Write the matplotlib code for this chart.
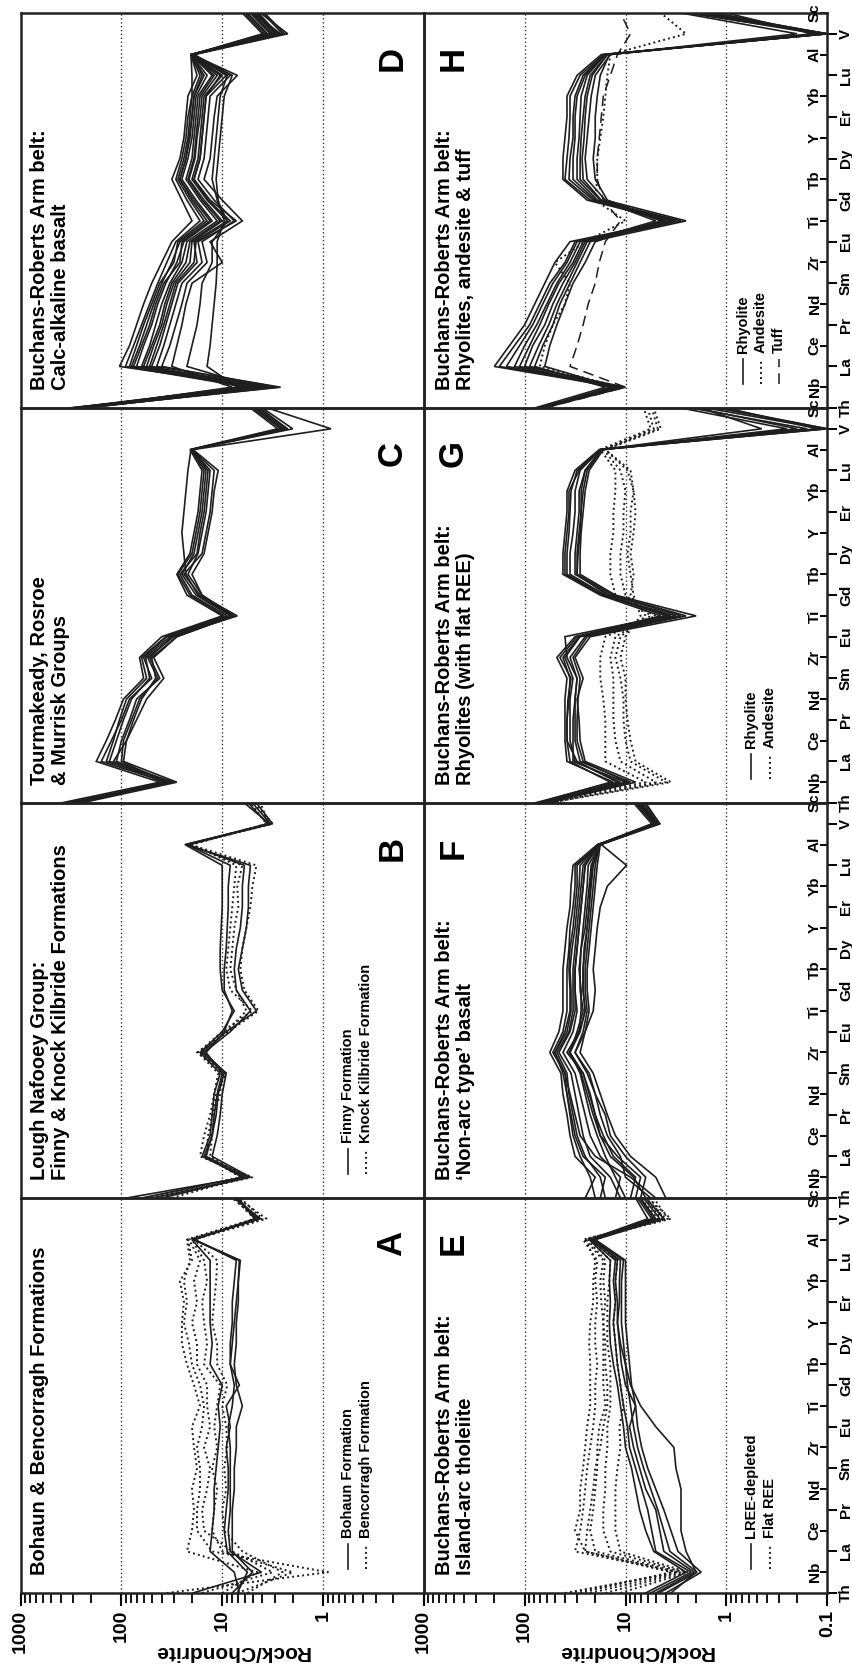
import matplotlib
matplotlib.use("Agg")
import matplotlib.pyplot as plt
import matplotlib.transforms as mtransforms
from matplotlib.ticker import LogLocator, NullFormatter, NullLocator
import numpy as np

plt.rcParams['font.family'] = ['Liberation Sans', 'DejaVu Sans']
plt.rcParams['font.weight'] = 'bold'

# Element order along each panel (Th at the panel bottom, Sc at the top)
elements = ["Th", "Nb", "La", "Ce", "Pr", "Nd", "Sm", "Zr", "Eu", "Ti",
            "Gd", "Tb", "Dy", "Y", "Er", "Yb", "Lu", "Al", "V", "Sc"]

# Profiles are given as log10(Rock/Chondrite), one list per sample
# --- A: Bohaun & Bencorragh Formations
bohaun_log = [
    [1.29, 0.61, 0.92, 0.94, 0.92, 0.92, 0.92, 0.92, 0.94, 0.90, 0.88, 0.92, 0.90, 0.88, 0.86, 0.84, 0.83, 1.29, 0.66, 0.86],
    [0.83, 0.88, 1.12, 1.10, 1.08, 1.08, 1.06, 1.04, 1.02, 1.04, 1.00, 1.12, 1.10, 1.12, 1.12, 1.12, 1.12, 1.30, 0.62, 0.88],
    [0.85, 0.75, 0.95, 0.98, 0.96, 0.94, 0.94, 0.96, 0.92, 0.96, 0.83, 0.92, 0.92, 0.90, 0.90, 0.88, 0.86, 1.27, 0.68, 0.84],
    [0.90, 0.70, 0.90, 0.90, 0.90, 0.88, 0.88, 0.86, 0.86, 0.80, 0.86, 0.88, 0.86, 0.86, 0.84, 0.84, 0.82, 1.28, 0.64, 0.86],
]
bencorragh_log = [
    [1.55, -0.05, 1.10, 1.25, 1.25, 1.22, 1.22, 1.25, 1.20, 1.18, 1.22, 1.30, 1.33, 1.38, 1.35, 1.38, 1.32, 1.35, 0.66, 0.90],
    [1.20, 0.50, 0.90, 1.18, 1.20, 1.15, 1.12, 1.18, 1.12, 1.15, 1.15, 1.25, 1.25, 1.30, 1.25, 1.28, 1.22, 1.33, 0.62, 0.88],
    [0.85, 0.30, 1.00, 1.10, 1.08, 1.05, 1.10, 1.05, 1.08, 1.05, 1.02, 1.18, 1.15, 1.18, 1.20, 1.15, 1.18, 1.30, 0.60, 0.82],
    [1.00, 0.65, 1.35, 1.30, 1.28, 1.30, 1.25, 1.28, 1.30, 1.22, 1.28, 1.35, 1.40, 1.40, 1.38, 1.42, 1.30, 1.34, 0.68, 0.88],
    [0.75, 0.40, 0.80, 0.98, 1.00, 0.96, 0.98, 0.95, 0.96, 1.00, 0.95, 1.05, 1.05, 1.10, 1.08, 1.06, 1.05, 1.28, 0.56, 0.85],
]

# --- B: Lough Nafooey Group
finny_log = [
    [1.95, 0.77, 1.20, 1.12, 1.10, 1.08, 1.02, 1.22, 1.00, 0.88, 1.00, 1.02, 1.02, 1.01, 1.00, 1.00, 1.00, 1.37, 0.53, 0.78],
    [1.80, 0.80, 1.18, 1.10, 1.06, 1.04, 0.98, 1.20, 0.96, 0.66, 0.80, 0.84, 0.80, 0.76, 0.74, 0.74, 0.72, 1.36, 0.52, 0.70],
    [1.70, 0.72, 1.10, 1.05, 1.02, 1.00, 0.96, 1.18, 0.92, 0.72, 0.86, 0.88, 0.86, 0.82, 0.80, 0.80, 0.78, 1.34, 0.55, 0.74],
    [1.60, 0.74, 1.16, 1.10, 1.08, 1.05, 1.00, 1.16, 0.98, 0.90, 0.98, 0.98, 0.96, 0.95, 0.94, 0.94, 0.92, 1.35, 0.50, 0.66],
]
knock_kilbride_log = [
    [1.75, 0.82, 1.16, 1.14, 1.10, 1.06, 0.96, 1.25, 0.94, 0.64, 0.78, 0.82, 0.80, 0.76, 0.72, 0.70, 0.66, 1.32, 0.54, 0.62],
    [1.50, 0.78, 1.12, 1.10, 1.08, 1.02, 1.00, 1.22, 0.96, 0.76, 0.86, 0.92, 0.90, 0.88, 0.84, 0.85, 0.80, 1.33, 0.50, 0.68],
    [1.65, 0.70, 1.22, 1.18, 1.12, 1.08, 1.04, 1.24, 1.00, 0.70, 0.92, 0.96, 0.94, 0.92, 0.90, 0.88, 0.86, 1.30, 0.56, 0.72],
]

# --- C: Tourmakeady, Rosroe & Murrisk Groups
tourmakeady_log = [
    [2.55, 1.55, 2.20, 2.10, 2.00, 1.92, 1.70, 1.78, 1.55, 0.95, 1.30, 1.42, 1.25, 1.22, 1.18, 1.16, 1.14, 1.31, 0.40, 0.68],
    [2.45, 1.50, 2.05, 2.00, 1.92, 1.85, 1.62, 1.72, 1.50, 0.85, 1.22, 1.38, 1.20, 1.16, 1.12, 1.10, 1.08, 1.30, 0.30, 0.60],
    [2.60, 1.62, 2.25, 2.15, 2.06, 1.98, 1.78, 1.82, 1.60, 1.00, 1.35, 1.45, 1.32, 1.28, 1.24, 1.22, 1.20, 1.32, 0.45, 0.72],
    [2.40, 1.45, 1.98, 1.95, 1.88, 1.80, 1.66, 1.70, 1.45, 0.88, 1.20, 1.30, 1.18, 1.14, 1.10, 1.08, 1.04, 1.29, -0.08, 0.55],
    [2.50, 1.58, 2.12, 2.05, 1.98, 1.90, 1.72, 1.76, 1.52, 0.92, 1.26, 1.40, 1.28, 1.24, 1.20, 1.18, 1.16, 1.30, 0.35, 0.64],
    [2.48, 1.52, 2.08, 1.95, 1.85, 1.75, 1.58, 1.68, 1.45, 0.90, 1.24, 1.36, 1.38, 1.40, 1.38, 1.36, 1.34, 1.31, 0.38, 0.66],
    [2.52, 1.48, 2.15, 2.08, 2.02, 1.95, 1.75, 1.80, 1.56, 0.98, 1.32, 1.44, 1.30, 1.26, 1.22, 1.20, 1.18, 1.31, 0.42, 0.70],
    [2.42, 1.56, 2.00, 1.98, 1.90, 1.82, 1.64, 1.74, 1.48, 0.90, 1.20, 1.34, 1.24, 1.20, 1.16, 1.14, 1.12, 1.30, 0.36, 0.62],
]

# --- D: Buchans-Roberts Arm belt, calc-alkaline basalt
calc_alkaline_log = [
    [2.45, 0.60, 2.02, 1.92, 1.85, 1.78, 1.70, 1.60, 1.50, 1.30, 1.40, 1.50, 1.42, 1.38, 1.36, 1.34, 1.25, 1.31, 0.50, 0.70],
    [2.40, 0.70, 1.90, 1.82, 1.75, 1.68, 1.60, 1.50, 1.42, 1.15, 1.30, 1.42, 1.36, 1.32, 1.30, 1.28, 1.20, 1.30, 0.55, 0.75],
    [2.35, 0.55, 1.80, 1.72, 1.66, 1.60, 1.52, 1.40, 1.35, 1.05, 1.22, 1.36, 1.30, 1.28, 1.26, 1.24, 1.10, 1.31, 0.45, 0.65],
    [2.50, 0.80, 1.70, 1.62, 1.56, 1.50, 1.44, 1.25, 1.28, 0.95, 1.15, 1.30, 1.24, 1.22, 1.20, 1.18, 1.00, 1.30, 0.60, 0.80],
    [2.42, 0.45, 1.60, 1.52, 1.46, 1.40, 1.35, 1.15, 1.20, 0.88, 1.08, 1.24, 1.18, 1.16, 1.14, 1.12, 0.92, 1.29, 0.40, 0.60],
    [2.38, 0.90, 1.50, 1.45, 1.40, 1.36, 1.30, 1.00, 1.12, 0.80, 1.00, 1.18, 1.12, 1.10, 1.08, 1.05, 0.85, 1.30, 0.52, 0.72],
    [2.45, 0.65, 1.35, 1.30, 1.25, 1.22, 1.20, 1.10, 1.10, 0.95, 1.05, 1.10, 1.08, 1.06, 1.04, 1.02, 0.95, 1.28, 0.35, 0.62],
    [2.48, 0.75, 1.96, 1.88, 1.80, 1.72, 1.64, 1.55, 1.46, 1.22, 1.35, 1.46, 1.40, 1.36, 1.34, 1.30, 1.30, 1.31, 0.48, 0.68],
    [2.36, 0.50, 1.75, 1.68, 1.60, 1.55, 1.48, 1.32, 1.30, 1.00, 1.18, 1.33, 1.27, 1.25, 1.22, 1.20, 1.05, 1.30, 0.58, 0.78],
    [2.44, 0.85, 1.15, 1.12, 1.10, 1.08, 1.06, 1.05, 1.05, 0.98, 1.04, 1.06, 1.04, 1.02, 1.00, 0.98, 0.90, 1.28, 0.45, 0.64],
    [2.52, 0.62, 1.85, 1.78, 1.70, 1.64, 1.56, 1.45, 1.38, 1.10, 1.26, 1.40, 1.34, 1.30, 1.28, 1.26, 1.15, 1.31, 0.42, 0.70],
    [2.40, 0.42, 1.65, 1.58, 1.52, 1.46, 1.40, 1.20, 1.24, 0.86, 1.12, 1.28, 1.22, 1.20, 1.18, 1.16, 0.96, 1.29, 0.38, 0.58],
    [2.47, 0.68, 1.92, 1.85, 1.78, 1.70, 1.62, 1.48, 1.44, 1.18, 1.32, 1.44, 1.38, 1.34, 1.32, 1.30, 1.22, 1.31, 0.52, 0.72],
    [2.38, 0.58, 1.78, 1.70, 1.62, 1.57, 1.50, 1.36, 1.32, 1.02, 1.20, 1.34, 1.28, 1.26, 1.24, 1.22, 1.08, 1.30, 0.47, 0.66],
    [2.43, 0.78, 1.72, 1.65, 1.58, 1.52, 1.46, 1.28, 1.26, 0.92, 1.14, 1.28, 1.22, 1.20, 1.18, 1.16, 1.02, 1.30, 0.56, 0.76],
    [2.50, 0.52, 1.88, 1.80, 1.72, 1.66, 1.58, 1.42, 1.40, 1.12, 1.28, 1.42, 1.36, 1.33, 1.30, 1.28, 1.18, 1.31, 0.44, 0.66],
]

# --- E: Buchans-Roberts Arm belt, island-arc tholeiite
lree_depleted_log = [
    [0.67, 0.29, 0.56, 0.62, 0.68, 0.75, 0.82, 0.88, 0.92, 0.95, 0.98, 1.00, 1.02, 1.04, 1.04, 1.04, 1.02, 1.32, 0.70, 0.85],
    [0.60, 0.25, 0.48, 0.55, 0.62, 0.70, 0.78, 0.84, 0.88, 0.90, 0.94, 0.96, 0.98, 1.00, 1.00, 1.00, 1.00, 1.30, 0.66, 0.82],
    [0.75, 0.35, 0.70, 0.74, 0.78, 0.84, 0.90, 0.96, 0.98, 1.02, 1.05, 1.08, 1.10, 1.12, 1.10, 1.12, 1.10, 1.35, 0.74, 0.88],
    [0.55, 0.30, 0.40, 0.45, 0.45, 0.45, 0.50, 0.52, 0.70, 0.85, 0.95, 1.00, 1.05, 1.08, 1.08, 1.10, 1.08, 1.30, 0.62, 0.80],
    [0.70, 0.32, 0.62, 0.66, 0.70, 0.80, 0.86, 0.92, 0.96, 0.90, 1.00, 1.04, 1.06, 1.08, 1.06, 1.06, 1.05, 1.34, 0.72, 0.86],
    [0.80, 0.40, 0.72, 0.80, 0.86, 0.90, 0.94, 1.00, 1.02, 1.05, 1.08, 1.12, 1.15, 1.16, 1.15, 1.16, 1.15, 1.36, 0.78, 0.90],
]
flat_ree_log = [
    [1.55, 0.50, 1.50, 1.45, 1.42, 1.40, 1.38, 1.35, 1.32, 1.30, 1.30, 1.28, 1.30, 1.30, 1.28, 1.30, 1.28, 1.42, 0.60, 0.80],
    [1.35, 0.45, 1.30, 1.35, 1.32, 1.30, 1.28, 1.28, 1.26, 1.20, 1.22, 1.22, 1.22, 1.22, 1.20, 1.22, 1.20, 1.38, 0.55, 0.78],
    [1.20, 0.42, 1.15, 1.22, 1.22, 1.20, 1.20, 1.18, 1.18, 1.15, 1.15, 1.15, 1.18, 1.18, 1.18, 1.16, 1.15, 1.36, 0.68, 0.85],
    [1.45, 0.55, 1.40, 1.38, 1.35, 1.32, 1.30, 1.25, 1.22, 1.18, 1.18, 1.20, 1.20, 1.22, 1.24, 1.25, 1.22, 1.40, 0.58, 0.72],
    [1.05, 0.38, 1.05, 1.10, 1.10, 1.10, 1.08, 1.05, 1.06, 1.02, 1.05, 1.08, 1.10, 1.12, 1.10, 1.10, 1.08, 1.33, 0.62, 0.76],
    [1.60, 0.48, 1.40, 1.50, 1.45, 1.45, 1.42, 1.40, 1.38, 1.35, 1.35, 1.35, 1.36, 1.35, 1.32, 1.32, 1.30, 1.40, 0.64, 0.82],
]

# --- F: Buchans-Roberts Arm belt, 'non-arc type' basalt
non_arc_log = [
    [0.70, 0.95, 1.30, 1.45, 1.50, 1.55, 1.60, 1.72, 1.62, 1.58, 1.58, 1.58, 1.56, 1.55, 1.52, 1.50, 1.50, 1.26, 0.70, 0.90],
    [1.30, 1.35, 1.45, 1.52, 1.55, 1.58, 1.62, 1.70, 1.60, 1.55, 1.55, 1.56, 1.55, 1.52, 1.50, 1.48, 1.48, 1.27, 0.72, 0.88],
    [1.00, 1.10, 1.20, 1.28, 1.35, 1.40, 1.45, 1.55, 1.48, 1.42, 1.45, 1.45, 1.44, 1.42, 1.40, 1.38, 1.37, 1.25, 0.68, 0.84],
    [0.85, 0.80, 1.00, 1.15, 1.20, 1.30, 1.38, 1.50, 1.42, 1.38, 1.40, 1.40, 1.38, 1.36, 1.34, 1.32, 1.30, 1.26, 0.66, 0.82],
    [1.20, 1.25, 1.40, 1.48, 1.52, 1.56, 1.58, 1.68, 1.56, 1.52, 1.52, 1.52, 1.50, 1.48, 1.46, 1.44, 1.42, 1.27, 0.74, 0.92],
    [0.60, 0.70, 0.95, 1.10, 1.18, 1.25, 1.32, 1.45, 1.40, 1.36, 1.38, 1.38, 1.36, 1.34, 1.32, 1.30, 1.28, 1.25, 0.70, 0.86],
    [1.40, 1.30, 1.50, 1.55, 1.58, 1.62, 1.64, 1.75, 1.66, 1.62, 1.62, 1.62, 1.60, 1.58, 1.55, 1.54, 1.52, 1.28, 0.68, 0.90],
    [1.10, 1.05, 1.25, 1.35, 1.40, 1.45, 1.50, 1.62, 1.52, 1.48, 1.50, 1.50, 1.48, 1.46, 1.44, 1.42, 1.40, 1.26, 0.72, 0.86],
    [0.95, 0.90, 1.12, 1.22, 1.30, 1.35, 1.42, 1.58, 1.46, 1.44, 1.44, 1.46, 1.44, 1.40, 1.38, 1.36, 1.34, 1.26, 0.70, 0.88],
    [0.75, 1.00, 1.05, 1.18, 1.25, 1.30, 1.36, 1.50, 1.40, 1.32, 1.30, 1.32, 1.30, 1.28, 1.25, 1.18, 0.99, 1.24, 0.66, 0.80],
    [1.05, 1.15, 1.35, 1.42, 1.46, 1.50, 1.54, 1.66, 1.55, 1.50, 1.50, 1.50, 1.48, 1.46, 1.44, 1.42, 1.40, 1.27, 0.70, 0.86],
    [0.90, 0.85, 1.08, 1.25, 1.32, 1.38, 1.44, 1.56, 1.46, 1.40, 1.42, 1.42, 1.40, 1.38, 1.36, 1.34, 1.32, 1.26, 0.68, 0.84],
    [1.25, 1.20, 1.42, 1.50, 1.54, 1.58, 1.60, 1.70, 1.58, 1.54, 1.54, 1.55, 1.53, 1.50, 1.48, 1.46, 1.45, 1.27, 0.72, 0.90],
    [0.80, 0.92, 1.15, 1.25, 1.30, 1.36, 1.42, 1.55, 1.45, 1.40, 1.42, 1.42, 1.41, 1.38, 1.36, 1.35, 1.33, 1.25, 0.69, 0.85],
]

# --- G: Buchans-Roberts Arm belt, rhyolites with flat REE
g_rhyolite_log = [
    [1.85, 1.05, 1.50, 1.55, 1.55, 1.55, 1.52, 1.60, 1.45, 0.55, 1.20, 1.55, 1.55, 1.52, 1.50, 1.50, 1.45, 1.25, -0.95, 0.20],
    [1.80, 0.95, 1.45, 1.50, 1.50, 1.50, 1.48, 1.55, 1.40, 0.45, 1.15, 1.50, 1.50, 1.48, 1.46, 1.46, 1.40, 1.24, -0.80, 0.35],
    [1.90, 1.12, 1.58, 1.60, 1.60, 1.60, 1.58, 1.68, 1.50, 0.65, 1.25, 1.62, 1.62, 1.60, 1.58, 1.58, 1.50, 1.26, -1.00, 0.10],
    [1.78, 0.90, 1.40, 1.45, 1.46, 1.48, 1.42, 1.50, 1.35, 0.30, 1.10, 1.45, 1.45, 1.44, 1.42, 1.40, 1.36, 1.22, -0.60, 0.45],
    [1.85, 1.00, 1.52, 1.52, 1.52, 1.50, 1.48, 1.58, 1.60, 0.60, 1.18, 1.48, 1.48, 1.46, 1.44, 1.44, 1.40, 1.24, -0.35, 0.25],
    [1.82, 1.08, 1.48, 1.58, 1.58, 1.56, 1.55, 1.62, 1.46, 0.50, 1.22, 1.58, 1.58, 1.56, 1.55, 1.54, 1.48, 1.25, -0.90, 0.00],
    [1.88, 1.15, 1.55, 1.58, 1.58, 1.57, 1.54, 1.65, 1.48, 0.58, 1.22, 1.60, 1.60, 1.58, 1.56, 1.56, 1.46, 1.25, -0.70, 0.30],
    [1.83, 0.98, 1.42, 1.48, 1.48, 1.47, 1.45, 1.52, 1.38, 0.40, 1.12, 1.48, 1.47, 1.45, 1.44, 1.42, 1.38, 1.23, -1.00, 0.05],
]
g_andesite_log = [
    [1.75, 0.70, 1.05, 1.10, 1.12, 1.12, 1.12, 1.15, 1.10, 0.75, 1.00, 1.05, 1.05, 1.02, 1.02, 1.00, 1.05, 1.22, 0.72, 0.78],
    [1.80, 0.60, 0.95, 1.00, 1.02, 1.02, 1.05, 1.10, 1.05, 0.80, 0.95, 0.92, 0.95, 0.92, 0.90, 0.92, 0.98, 1.20, 0.65, 0.72],
    [1.85, 0.80, 1.20, 1.20, 1.20, 1.22, 1.25, 1.25, 1.20, 0.70, 1.10, 1.15, 1.15, 1.12, 1.12, 1.10, 1.10, 1.25, 0.75, 0.82],
    [1.78, 0.55, 0.90, 0.95, 0.98, 1.00, 1.00, 1.05, 1.00, 0.85, 0.92, 0.95, 0.98, 0.95, 0.95, 0.92, 0.95, 1.20, 0.68, 0.74],
]

# --- H: Buchans-Roberts Arm belt, rhyolites, andesite & tuff
h_rhyolite_log = [
    [1.88, 1.05, 2.25, 2.10, 1.95, 1.85, 1.75, 1.60, 1.50, 0.50, 1.35, 1.60, 1.58, 1.56, 1.55, 1.55, 1.45, 1.22, -1.00, 0.30],
    [1.85, 1.15, 2.10, 2.00, 1.88, 1.78, 1.68, 1.55, 1.45, 0.60, 1.30, 1.52, 1.52, 1.50, 1.50, 1.48, 1.40, 1.20, -0.95, 0.10],
    [1.82, 1.00, 2.00, 1.92, 1.80, 1.72, 1.62, 1.50, 1.40, 0.70, 1.25, 1.45, 1.45, 1.44, 1.42, 1.40, 1.35, 1.18, -1.00, 0.40],
    [1.90, 1.20, 1.90, 1.82, 1.72, 1.65, 1.55, 1.45, 1.35, 0.40, 1.20, 1.38, 1.40, 1.38, 1.36, 1.34, 1.30, 1.15, -0.85, 0.00],
    [1.80, 1.08, 2.30, 2.15, 2.00, 1.90, 1.80, 1.70, 1.55, 0.55, 1.38, 1.62, 1.62, 1.60, 1.58, 1.58, 1.48, 1.24, -1.00, 0.20],
    [1.86, 1.10, 1.80, 1.75, 1.68, 1.60, 1.52, 1.40, 1.30, 0.65, 1.18, 1.30, 1.32, 1.30, 1.30, 1.28, 1.25, 1.16, -0.70, 0.45],
    [1.84, 1.12, 2.05, 1.95, 1.85, 1.76, 1.66, 1.52, 1.42, 0.45, 1.28, 1.48, 1.48, 1.46, 1.45, 1.44, 1.38, 1.20, -1.00, 0.15],
    [1.87, 1.02, 2.18, 2.05, 1.92, 1.82, 1.72, 1.58, 1.48, 0.62, 1.32, 1.56, 1.55, 1.52, 1.52, 1.50, 1.42, 1.21, -0.90, 0.35],
    [1.83, 1.06, 1.95, 1.86, 1.76, 1.68, 1.58, 1.48, 1.38, 0.52, 1.24, 1.42, 1.43, 1.41, 1.40, 1.38, 1.33, 1.18, -0.95, 0.25],
]
h_andesite_log = [
    [1.85, 1.05, 1.85, 1.80, 1.72, 1.60, 1.55, 1.70, 1.40, 1.00, 1.30, 1.28, 1.28, 1.25, 1.22, 1.20, 1.18, 1.15, 0.40, 0.65],
]
h_tuff_log = [
    [1.80, 1.00, 1.55, 1.48, 1.42, 1.37, 1.30, 1.26, 1.20, 1.05, 1.22, 1.28, 1.28, 1.26, 1.24, 1.22, 1.15, 1.08, 0.95, 1.05],
]

# Figure geometry (pixels at dpi 100)
FIG_W, FIG_H = 852, 1664
COL_X = [20.7, 423.7]
COL_W = [403.0, 403.6]
ROW_BOTTOM = [1593, 1198, 803, 408]   # rows from the lower panel upward
PANEL_H = 395.0

INK = '#1e1e1e'
STYLES = {
    'solid': dict(ls='-', lw=1.2),
    'dotted': dict(ls=(0, (1, 1.6)), lw=1.4),
    'dashed': dict(ls=(0, (7, 4)), lw=1.1),
}

panels = [
    # col, row, letter, title, groups, legend entries
    (0, 0, 'A', 'Bohaun & Bencorragh Formations',
     [(bohaun_log, 'solid'), (bencorragh_log, 'dotted')],
     [('Bohaun Formation', 'solid'), ('Bencorragh Formation', 'dotted')]),
    (0, 1, 'B', 'Lough Nafooey Group:\nFinny & Knock Kilbride Formations',
     [(finny_log, 'solid'), (knock_kilbride_log, 'dotted')],
     [('Finny Formation', 'solid'), ('Knock Kilbride Formation', 'dotted')]),
    (0, 2, 'C', 'Tourmakeady, Rosroe\n& Murrisk Groups',
     [(tourmakeady_log, 'solid')], []),
    (0, 3, 'D', 'Buchans-Roberts Arm belt:\nCalc-alkaline basalt',
     [(calc_alkaline_log, 'solid')], []),
    (1, 0, 'E', 'Buchans-Roberts Arm belt:\nIsland-arc tholeiite',
     [(flat_ree_log, 'dotted'), (lree_depleted_log, 'solid')],
     [('LREE-depleted', 'solid'), ('Flat REE', 'dotted')]),
    (1, 1, 'F', 'Buchans-Roberts Arm belt:\n\u2018Non-arc type\u2019 basalt',
     [(non_arc_log, 'solid')], []),
    (1, 2, 'G', 'Buchans-Roberts Arm belt:\nRhyolites (with flat REE)',
     [(g_andesite_log, 'dotted'), (g_rhyolite_log, 'solid')],
     [('Rhyolite', 'solid'), ('Andesite', 'dotted')]),
    (1, 3, 'H', 'Buchans-Roberts Arm belt:\nRhyolites, andesite & tuff',
     [(h_andesite_log, 'dotted'), (h_tuff_log, 'dashed'), (h_rhyolite_log, 'solid')],
     [('Rhyolite', 'solid'), ('Andesite', 'dotted'), ('Tuff', 'dashed')]),
]

fig = plt.figure(figsize=(FIG_W / 100, FIG_H / 100), dpi=100, facecolor='white')
y_idx = np.arange(len(elements))

for col, row, letter, title, groups, legend in panels:
    ax = fig.add_axes([COL_X[col] / FIG_W, (FIG_H - ROW_BOTTOM[row]) / FIG_H,
                       COL_W[col] / FIG_W, PANEL_H / FIG_H])
    ax.patch.set_visible(False)   # neighbouring panels must not hide labels
    ax.set_xscale('log')
    ax.set_xlim(1000, 0.1)
    ax.set_ylim(0, len(elements) - 1)

    for v in (100, 10, 1):
        ax.axvline(v, color='#333333', lw=1.0, ls=(0, (1, 1.8)), zorder=1)

    for series_list, style in groups:
        for s in series_list:
            ax.plot(10 ** np.array(s), y_idx, color=INK, zorder=3,
                    solid_joinstyle='miter', **STYLES[style])

    for sp in ax.spines.values():
        sp.set_linewidth(1.8)
        sp.set_color('#222222')
        sp.set_zorder(5)

    # log axis (drawn along the bottom of the lower panels)
    if row == 0:
        ax.xaxis.set_minor_locator(LogLocator(base=10, subs=np.arange(2, 10), numticks=10))
        ax.xaxis.set_minor_formatter(NullFormatter())
        ticks = [1000, 100, 10, 1, 0.1]
        labels = ['1000', '100', '10', '1', '0.1'] if col == 1 else ['1000', '100', '10', '1', '']
        ax.set_xticks(ticks, labels)
        ax.tick_params(axis='x', which='major', length=9, width=1.5, pad=3,
                       labelsize=14, labelrotation=90, direction='out')
        ax.tick_params(axis='x', which='minor', length=7, width=1.3, direction='out')
        cx = (COL_X[col] + COL_W[col] / 2 + 10) / FIG_W
        fig.text(cx, (FIG_H - 1651) / FIG_H, 'Rock/Chondrite', rotation=180,
                 ha='center', va='center', fontsize=15, fontweight='bold')
    else:
        ax.xaxis.set_major_locator(NullLocator())
        ax.xaxis.set_minor_locator(NullLocator())

    # element axis on the outer edge of the right-hand column
    if col == 1:
        outer = list(range(0, len(elements), 2))
        inner = list(range(1, len(elements), 2))
        ax.yaxis.tick_right()
        ax.set_yticks(outer, [elements[i] for i in outer])
        ax.set_yticks(inner, minor=True)
        ax.tick_params(axis='y', which='major', direction='out', length=7, width=1.4,
                       pad=1.5, labelsize=11, left=False, right=True,
                       labelleft=False, labelright=True)
        ax.tick_params(axis='y', which='minor', direction='in', length=5, width=1.4,
                       left=False, right=True)
        for lbl in ax.get_yticklabels():
            lbl.set_rotation(90)
            lbl.set_va('center')
            lbl.set_fontweight('bold')
        trans = mtransforms.blended_transform_factory(ax.transAxes, ax.transData)
        for i in inner:
            ax.text(1 - 5.5 / COL_W[col], i, elements[i], transform=trans,
                    rotation=90, ha='right', va='center', fontsize=11,
                    fontweight='bold', zorder=6, clip_on=False)
    else:
        ax.yaxis.set_major_locator(NullLocator())
        ax.yaxis.set_minor_locator(NullLocator())

    # panel title and letter
    tx = 0.023 if col == 0 else 0.028
    ax.text(tx, 0.045, title, transform=ax.transAxes, rotation=90,
            ha='left', va='bottom', fontsize=14.5, fontweight='bold',
            linespacing=1.15, zorder=6)
    lx = 0.921 if col == 0 else 0.072
    ax.text(lx, 0.886, letter, transform=ax.transAxes, rotation=90,
            ha='center', va='center', fontsize=25, fontweight='bold', zorder=6)

    # legend drawn as short vertical samples with rotated labels
    x0 = 0.79 if len(legend) == 3 else 0.812
    for k, (name, style) in enumerate(legend):
        xk = x0 + 0.045 * k
        ax.plot([xk, xk], [0.062, 0.125], transform=ax.transAxes, color=INK,
                zorder=6, **STYLES[style])
        ax.text(xk, 0.14, name, transform=ax.transAxes, rotation=90,
                ha='center', va='bottom', fontsize=10.5, fontweight='bold', zorder=6)

fig.savefig('out.png', dpi=100, facecolor='white')
